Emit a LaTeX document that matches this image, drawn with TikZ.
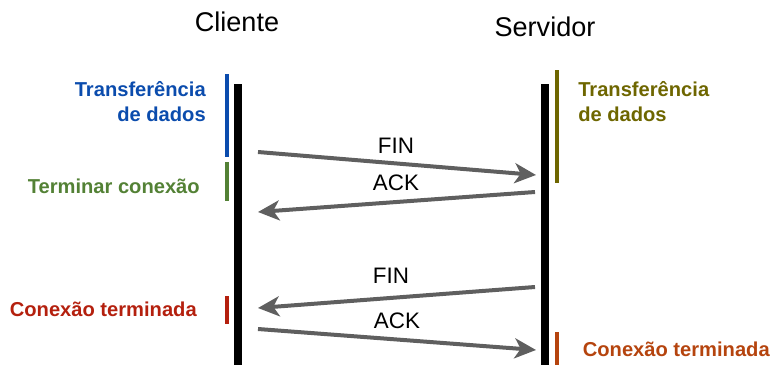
\documentclass[tikz,border=0pt]{standalone}
\usepackage{fontspec}
\setmainfont{Liberation Sans}
\usetikzlibrary{arrows.meta}
\definecolor{cblue}{HTML}{0B4CAD}
\definecolor{cgreen}{HTML}{538135}
\definecolor{cred}{HTML}{B4200E}
\definecolor{colive}{HTML}{6E6600}
\definecolor{corange}{HTML}{B5440E}
\definecolor{cgray}{HTML}{5F5F5F}
\begin{document}
\begin{tikzpicture}[x=0.75pt,y=-0.75pt,
  lifeline/.style={line width=6pt,black},
  phase/.style={line width=2.4pt},
  msg/.style={cgray,line width=3pt,-{Stealth[length=16pt,width=15pt,inset=4.5pt]}},
  msglabel/.style={font=\fontsize{16.8}{19}\selectfont,inner sep=0pt},
  title/.style={font=\fontsize{20.3}{23}\selectfont,inner sep=0pt},
  plabel/.style={font=\bfseries\fontsize{15.1}{18.8}\selectfont,inner sep=0pt}]
\useasboundingbox (0,0) rectangle (772,365);
% titles
\node[title] (tc) at (237,22) {Cliente};
\node[title] (ts) at (545,27) {Servidor};
% lifelines
\coordinate (ct) at (238,84); \coordinate (cb) at (238,365);
\coordinate (st) at (545,84); \coordinate (sb) at (545,365);
\draw[lifeline] (ct) -- (cb);
\draw[lifeline] (st) -- (sb);
% phase bars
\draw[phase,cblue] (227,74) -- (227,157);
\draw[phase,cgreen] (227,162) -- (227,201);
\draw[phase,cred] (227,296) -- (227,324);
\draw[phase,colive] (557,70) -- (557,183);
\draw[phase,corange] (557,332) -- (557,365);
% phase labels
\node[plabel,cblue,align=right,anchor=east] (l1) at (206,102) {Transferência\\de dados};
\node[plabel,cgreen,anchor=east] (l2) at (200,186) {Terminar conexão};
\node[plabel,cred,anchor=east] (l3) at (197,309) {Conexão terminada};
\node[plabel,colive,align=left,anchor=west] (r1) at (578,102) {Transferência\\de dados};
\node[plabel,corange,anchor=east] (r2) at (770,349) {Conexão terminada};
% messages
\coordinate (a1) at (258,152); \coordinate (b1) at (536,175);
\coordinate (a2) at (535,192); \coordinate (b2) at (258,212);
\coordinate (a3) at (535,287); \coordinate (b3) at (258,308);
\coordinate (a4) at (258,329); \coordinate (b4) at (536,350);
\draw[msg] (a1) -- (b1);
\draw[msg] (a2) -- (b2);
\draw[msg] (a3) -- (b3);
\draw[msg] (a4) -- (b4);
\node[msglabel] (m1) at (396,146) {FIN};
\node[msglabel] (m2) at (396,183) {ACK};
\node[msglabel] (m3) at (391,276) {FIN};
\node[msglabel] (m4) at (397,321) {ACK};
\end{tikzpicture}
\end{document}
